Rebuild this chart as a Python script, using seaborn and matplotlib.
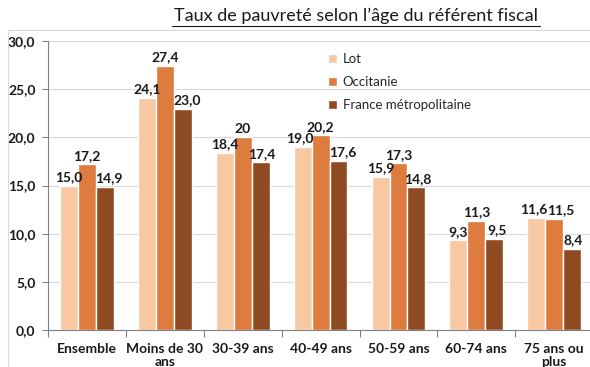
import matplotlib
matplotlib.use("Agg")
import matplotlib.pyplot as plt
import seaborn as sns
import pandas as pd
from matplotlib.patches import Rectangle

categories = ["Ensemble", "Moins de 30\nans", "30-39 ans", "40-49 ans",
              "50-59 ans", "60-74 ans", "75 ans ou\nplus"]
series_names = ["Lot", "Occitanie", "France métropolitaine"]
lot = [15.0, 24.1, 18.4, 19.0, 15.9, 9.3, 11.6]
occitanie = [17.2, 27.4, 20, 20.2, 17.3, 11.3, 11.5]
france = [14.9, 23.0, 17.4, 17.6, 14.8, 9.5, 8.4]
y_ticks = [0, 5, 10, 15, 20, 25, 30]
colors = ["#F8C8A3", "#DE7B3E", "#8E4A21"]

# horizontal nudges (points) that keep neighbouring value labels apart
label_dx = [
    [0, 0, 0, -2, 0, 0, -2],
    [0, 0, 0, 0, 0, 0, 5],
    [3, 3, 1, 3, 1, 2, 1],
]

sns.set_theme(style="white")
plt.rcParams["font.family"] = ["Lato", "DejaVu Sans"]

df = pd.DataFrame({
    "cat": categories * 3,
    "serie": [s for s in series_names for _ in categories],
    "val": lot + occitanie + france,
})

fig = plt.figure(figsize=(5.9, 3.67), dpi=100)
ax = fig.add_axes([0.0814, 0.1008, 0.924, 0.7872])

sns.barplot(data=df, x="cat", y="val", hue="serie", palette=colors,
            width=0.69, saturation=1, ax=ax, legend=True)

def fmt(v):
    if isinstance(v, int):
        return str(v)
    return f"{v:.1f}".replace(".", ",")

for cont, vals, dxs in zip(ax.containers, [lot, occitanie, france], label_dx):
    for bar, v, dx in zip(cont, vals, dxs):
        ax.annotate(fmt(v), (bar.get_x() + bar.get_width() / 2, bar.get_height()),
                    xytext=(dx, 2), textcoords="offset points",
                    ha="center", va="bottom", fontsize=10, fontweight="bold",
                    color="#1a1a1a")

ax.set_ylim(0, 30)
ax.set_xlim(-0.5, 6.5)
ax.set_yticks(y_ticks)
ax.set_yticklabels([f"{t:.1f}".replace(".", ",") for t in y_ticks],
                   fontsize=10, fontweight="bold", color="#1a1a1a")
ax.yaxis.grid(True, color="#d9d9d9", linewidth=0.8)
ax.set_axisbelow(True)
ax.set_xlabel("")
ax.set_ylabel("")
ax.set_xticks(range(len(categories)))
ax.set_xticklabels(categories, fontsize=10, fontweight="bold", color="#1a1a1a",
                   linespacing=1.1)
ax.tick_params(axis="x", length=0, pad=9)
ax.tick_params(axis="y", left=True, length=4, width=0.8, color="#808080", pad=5)
# category separators on the x axis
ax.set_xticks([i - 0.5 for i in range(len(categories) + 1)], minor=True)
ax.tick_params(axis="x", which="minor", bottom=True, length=5, width=0.8,
               color="#808080")
for s in ["top", "right"]:
    ax.spines[s].set_visible(False)
for s in ["left", "bottom"]:
    ax.spines[s].set_color("#808080")
    ax.spines[s].set_linewidth(0.8)

leg = ax.legend(loc="upper left", bbox_to_anchor=(0.492, 1.0), frameon=False,
                fontsize=9.5, handlelength=0.7, handleheight=0.7,
                labelspacing=0.85, handletextpad=0.4)

# chart area border
fig.patches.append(Rectangle((8 / 590, -0.1), 1.2, 1 - 30 / 367 + 0.1,
                             transform=fig.transFigure, fill=False,
                             edgecolor="#d9d9d9", linewidth=0.8))

fig.text(356 / 590, 1 - 16 / 367, "Taux de pauvreté selon l\u2019âge du référent fiscal",
         ha="center", va="center", fontsize=13, color="#1a1a1a")
# underline of the title
fig.add_artist(plt.Line2D([172 / 590, 540 / 590], [1 - 26 / 367, 1 - 26 / 367],
                          transform=fig.transFigure, color="#1a1a1a", linewidth=0.8))

fig.savefig("out.png", dpi=100)
